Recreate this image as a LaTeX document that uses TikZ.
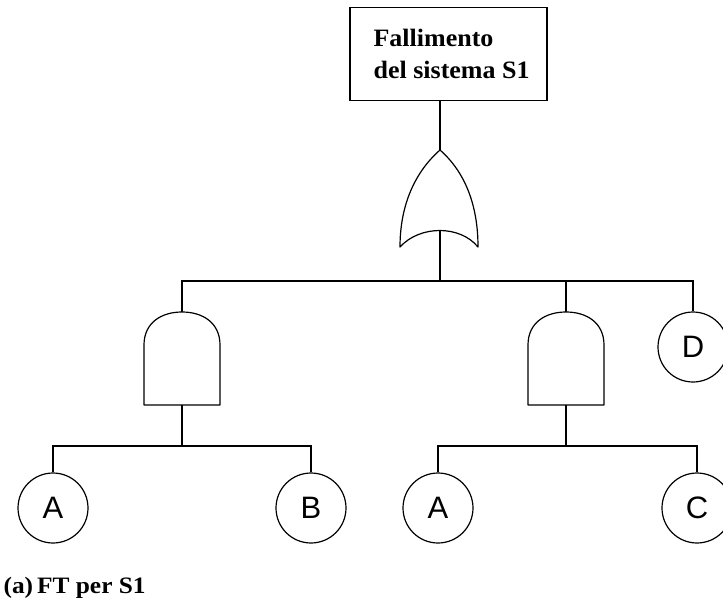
\documentclass[tikz,border=0pt]{standalone}
\usepackage{fontspec}
\setmainfont{Liberation Serif}
\setsansfont{Liberation Sans}
\newfontfamily\boxfont[FakeStretch=1.04]{Liberation Serif}
\newfontfamily\capfont[FakeStretch=1.08]{Liberation Serif}
\begin{document}
\begin{tikzpicture}[x=1pt,y=-1pt,line width=1.2pt,
  evt/.style={draw,circle,minimum size=70pt,inner sep=0pt,font=\sffamily\fontsize{31}{31}\selectfont},
  gate/.style={draw,line join=round},
  lbl/.style={inner sep=0pt,font=\boxfont\bfseries\fontsize{25}{31}\selectfont}]
\useasboundingbox (0,0) rectangle (723,602);
% top event
\node[draw,rectangle,minimum width=197pt,minimum height=93pt,inner sep=0pt] (top) at (448.5,54) {};
\node[lbl,anchor=base west] (t1) at (373,47) {Fallimento};
\node[lbl,anchor=base west] (t2) at (373,78) {del sistema S1};
% OR gate
\coordinate (ortop) at (440,150);
\coordinate (orbot) at (440,230);
\draw[gate] (ortop) .. controls (415,172) and (400,205) .. (400,247)
  .. controls (420,225) and (460,225) .. (478,247)
  .. controls (478,205) and (465,172) .. (ortop);
% AND gates
\coordinate (andLtop) at (182,312);
\coordinate (andLbot) at (182,405);
\draw[gate] (144,405) -- (144,345) .. controls (144,323) and (161,312) .. (andLtop)
  .. controls (203,312) and (220,323) .. (220,345) -- (220,405) -- cycle;
\coordinate (andRtop) at (566,312);
\coordinate (andRbot) at (566,405);
\draw[gate] (528,405) -- (528,345) .. controls (528,323) and (545,312) .. (andRtop)
  .. controls (587,312) and (604,323) .. (604,345) -- (604,405) -- cycle;
% basic events
\node[evt] (D) at (693,347) {D};
\node[evt] (A1) at (53,508) {A};
\node[evt] (B) at (311,508) {B};
\node[evt] (A2) at (438,508) {A};
\node[evt] (C) at (697,508) {C};
% connectors
\draw (top.south -| ortop) -- (ortop);
\coordinate (j1) at (440,281);
\draw (orbot) -- (j1);
\draw (j1) -| (andLtop);
\draw (j1) -| (andRtop);
\draw (j1) -| (D.north);
\coordinate (j2) at (182,446);
\draw (andLbot) -- (j2);
\draw (j2) -| (A1.north);
\draw (j2) -| (B.north);
\coordinate (j3) at (566,446);
\draw (andRbot) -- (j3);
\draw (j3) -| (A2.north);
\draw (j3) -| (C.north);
% caption
\node[inner sep=0pt,anchor=base west,font=\capfont\bfseries\fontsize{23.5}{28}\selectfont] (cap) at (3,593) {(a)\,FT per S1};
\end{tikzpicture}
\end{document}
